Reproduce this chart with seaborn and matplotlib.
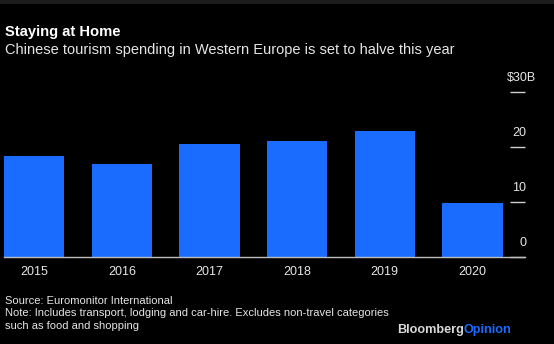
import matplotlib
matplotlib.use("Agg")
import matplotlib.pyplot as plt
import matplotlib.transforms as mtransforms
import seaborn as sns
import pandas as pd

years = ["2015", "2016", "2017", "2018", "2019", "2020"]
spending = [18.3, 17.0, 20.5, 21.1, 22.9, 9.9]
ytick_values = [0, 10, 20, 30]
ytick_labels = ["0", "10", "20", "$30B"]

title = "Staying at Home"
subtitle = "Chinese tourism spending in Western Europe is set to halve this year"
source = "Source: Euromonitor International"
note = "Note: Includes transport, lodging and car-hire. Excludes non-travel categories\nsuch as food and shopping"

BG = "#000000"
BAR = "#1a6bff"
TXT = "#e6e6e6"

sns.set_theme(style="dark")
plt.rcParams["font.family"] = ["Liberation Sans", "DejaVu Sans"]

df = pd.DataFrame({"year": years, "value": spending})

W, H = 554, 344
fig = plt.figure(figsize=(W / 100, H / 100), dpi=100, facecolor=BG)

# thin grey band at top
fig.patches.append(plt.Rectangle((0, 1 - 4 / H), 1, 4 / H, transform=fig.transFigure,
                                 facecolor="#1c1c1c", edgecolor="none", zorder=0))

ax_left, ax_right = 4 / W, 525 / W
ax_bottom, ax_top = (H - 257.3) / H, (H - 92) / H
ax = fig.add_axes([ax_left, ax_bottom, ax_right - ax_left, ax_top - ax_bottom])
ax.set_facecolor(BG)

sns.barplot(data=df, x="year", y="value", color=BAR, width=0.69, saturation=1,
            ax=ax, edgecolor="none")

ax.set_xlim(-0.345, 5.6)
ax.set_ylim(0, 30)
ax.set_xlabel("")
ax.set_ylabel("")
ax.grid(False)
for s in ["top", "left", "right"]:
    ax.spines[s].set_visible(False)
ax.spines["bottom"].set_visible(True)
ax.spines["bottom"].set_color("#bdbdbd")
ax.spines["bottom"].set_linewidth(1.0)
ax.spines["bottom"].set_zorder(5)

ax.tick_params(axis="x", length=0, pad=6, labelsize=9, labelcolor=TXT)

ax.yaxis.tick_right()
ax.set_yticks(ytick_values)
ax.tick_params(axis="y", direction="in", length=10.8, width=1.0, color="#cfcfcf",
               labelright=False, labelleft=False)

trans = mtransforms.blended_transform_factory(ax.transAxes, ax.transData)
off = mtransforms.offset_copy(trans, fig=fig, x=0, y=8, units="dots")
for v, lab in zip(ytick_values, ytick_labels):
    if lab.endswith("B"):
        ax.text(1.0 + 11 / 521, v, lab, transform=off, ha="right", va="bottom",
                fontsize=9, color=TXT)
    else:
        ax.text(1.0 + 1 / 521, v, lab, transform=off, ha="right", va="bottom",
                fontsize=9, color=TXT)

fig.text(5 / W, 1 - 32 / H, title, fontsize=10.6, fontweight="bold", color="white",
         ha="left", va="center")
fig.text(5 / W, 1 - 50 / H, subtitle, fontsize=10.5, color=TXT, ha="left", va="center")

fig.text(5 / W, 1 - 301 / H, source, fontsize=8, color=TXT, ha="left", va="center")
fig.text(5 / W, 1 - 307.5 / H, note, fontsize=8, color=TXT, ha="left", va="top",
         linespacing=1.38)

t1 = fig.text(397 / W, 1 - 330 / H, "Bloomberg", fontsize=9.1, fontweight="bold",
              color="#d9d9d9", ha="left", va="center")
fig.canvas.draw()
bb = t1.get_window_extent()
fig.text(bb.x1 / W, 1 - 330 / H, "Opinion", fontsize=9.1, fontweight="bold",
         color="#1a6bff", ha="left", va="center")

fig.savefig("out.png", dpi=100, facecolor=BG)
